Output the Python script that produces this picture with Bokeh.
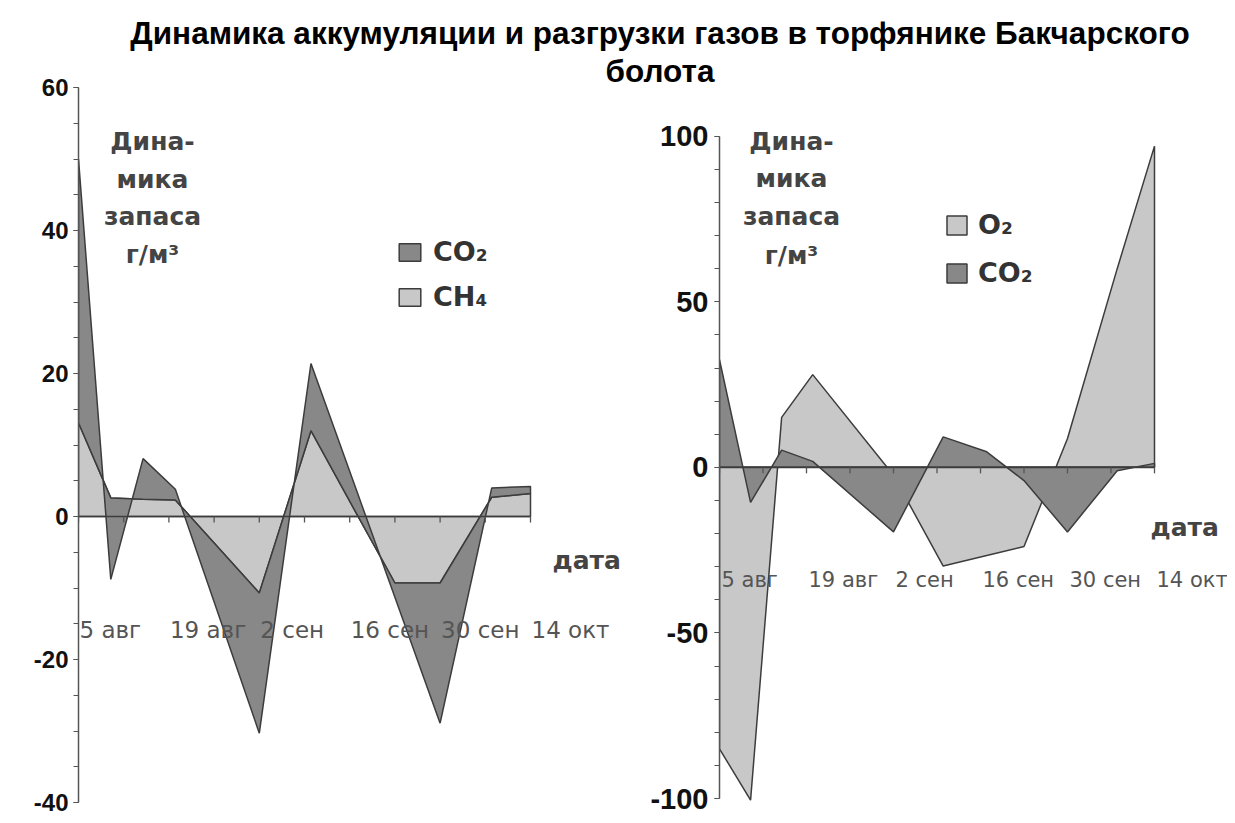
import numpy as np
from bokeh.plotting import figure
from bokeh.models import Legend, LegendItem, Div, FixedTicker
from bokeh.layouts import column, row
from bokeh.embed import file_html
from bokeh.resources import INLINE
from bokeh.core.properties import value

# ---------------- data ----------------
days = [0, 5, 10, 15, 28, 36, 43, 49, 56, 64, 70]
tick_days = [0, 14, 28, 42, 56, 70]
tick_labels = ["5 авг", "19 авг", "2 сен", "16 сен", "30 сен", "14 окт"]
minor_tick_days = [0, 7, 14, 21, 28, 35, 42, 49, 56, 63, 70]

left_ch4 = [13.1, 2.6, 2.4, 2.3, -10.7, 12.0, 0.5, -9.3, -9.3, 2.7, 3.2]
left_co2 = [36.9, -11.4, 5.7, 1.5, -19.6, 9.4, 3.3, -2.0, -19.6, 1.3, 1.0]

right_o2 = [-85.0, -100.5, 15.1, 28.0, -2.4, -29.8, -26.6, -23.9, 8.7, 60.0, 97.0]
right_co2 = [32.5, -10.6, 5.2, 1.8, -19.5, 9.2, 4.7, -4.0, -19.5, -1.0, 1.2]

left_ticks = [-40, -20, 0, 20, 40, 60]
right_ticks = [-100, -50, 0, 50, 100]
ylabel_lines = ["Дина-", "мика", "запаса", "г/м³"]
title_text = "Динамика аккумуляции и разгрузки газов в торфянике Бакчарского<br>болота"

# ---------------- styles ----------------
LIGHT = "#c8c8c8"
DARK = "#888888"
EDGE = "#3c3c3c"
AXIS = "#555555"
NUMFONT = "Liberation Sans"
TXTFONT = "DejaVu Sans"

X0, Y0 = 0, 10          # where the layout lands on the page
DIV_H = 60
FIG_H = 745
TOP_PAGE = 80           # common frame top (page px)
BOT_PAGE = 802          # common frame bottom (page px)
BT = TOP_PAGE - Y0 - DIV_H
BB = Y0 + DIV_H + FIG_H - BOT_PAGE
FH = BOT_PAGE - TOP_PAGE

# left chart mapping (-40 at frame bottom, 60 at page y 87)
W1, B1L, B1R = 630, 78, 5
f1w = W1 - B1L - B1R
f1_left_page = X0 + B1L
ppd1 = 452.0 / 70.0
x1_end = f1w / ppd1
ppu1 = (BOT_PAGE - 87) / 100.0
y1_lo = -40.0
y1_hi = y1_lo + FH / ppu1

# right chart mapping (-100 at page y 798, 100 at page y 135.7)
W2, B2L, B2R = 597, 89, 0
f2w = W2 - B2L - B2R
f2_left_page = X0 + W1 + B2L
ppd2 = 435.0 / 70.0
x2_end = f2w / ppd2
R_BOT = 798
ppu2 = (R_BOT - 135.7) / 200.0
y2_lo = -100.0 - (BOT_PAGE - R_BOT) / ppu2
y2_hi = y2_lo + FH / ppu2


def lx(px):
    return (px - f1_left_page) / ppd1


def ly(py):
    return y1_hi - (py - TOP_PAGE) / ppu1


def rx(px):
    return (px - f2_left_page) / ppd2


def ry(py):
    return y2_hi - (py - TOP_PAGE) / ppu2


def base_fig(width, bl, br, xr, yr, bounds, numsize, ticks):
    p = figure(width=width, height=FIG_H, x_range=xr, y_range=yr,
               x_axis_location=None, toolbar_location=None,
               output_backend="svg",
               min_border_left=bl, min_border_right=br,
               min_border_top=BT, min_border_bottom=BB)
    p.grid.visible = False
    p.outline_line_color = None
    p.border_fill_color = None
    p.background_fill_color = None
    ax = p.yaxis[0]
    ax.bounds = bounds
    ax.axis_line_color = AXIS
    ax.axis_line_width = 1.5
    ax.major_tick_line_color = AXIS
    ax.minor_tick_line_color = AXIS
    ax.major_tick_in = 0
    ax.minor_tick_in = 0
    ax.major_tick_out = 5
    ax.minor_tick_out = 5
    ax.major_label_text_font = NUMFONT
    ax.major_label_text_font_style = "bold"
    ax.major_label_text_font_size = numsize
    ax.major_label_text_color = "#111111"
    ax.major_label_overrides = {t: str(t) for t in ticks}
    return p


def date_axis(p, ppu, fsize, xoff, tick_len_px=6):
    x = np.asarray(days, dtype=float)
    p.segment(x0=[x[0]], y0=[0], x1=[x[-1]], y1=[0], line_color=EDGE, line_width=1.6)
    mt = np.asarray(minor_tick_days, dtype=float)
    p.segment(x0=mt, y0=np.zeros_like(mt), x1=mt, y1=np.full_like(mt, -tick_len_px / ppu),
              line_color=AXIS, line_width=1.3)
    p.text(x=tick_days, y=[0] * len(tick_days), text=tick_labels,
           x_offset=xoff, y_offset=113, text_align="left", text_baseline="middle",
           text_font=value(TXTFONT), text_font_size=fsize, text_color="#555555")


d = np.asarray(days, dtype=float)

# ---------------- left chart ----------------
p1 = base_fig(W1, B1L, B1R, (0, x1_end), (y1_lo, y1_hi), (-40, 60), "24px", left_ticks)
p1.yaxis[0].ticker = FixedTicker(ticks=left_ticks, minor_ticks=list(range(-40, 61, 5)))
p1.yaxis[0].major_label_standoff = 5

ch4 = np.asarray(left_ch4)
tot = ch4 + np.asarray(left_co2)
light1 = p1.patch(np.concatenate([d, d[::-1]]), np.concatenate([ch4, np.zeros_like(ch4)]),
                  fill_color=LIGHT, line_color=EDGE, line_width=1.5)
dark1 = p1.patch(np.concatenate([d, d[::-1]]), np.concatenate([tot, ch4[::-1]]),
                 fill_color=DARK, line_color=EDGE, line_width=1.5)
date_axis(p1, ppu1, "23px", 1)

p1.text(x=[lx(152)] * 4, y=[ly(141), ly(179), ly(216), ly(254)], text=ylabel_lines,
        text_align="center", text_baseline="middle", text_font=value(TXTFONT),
        text_font_style="bold", text_font_size="25px", text_color="#444444")
p1.text(x=[lx(552)], y=[ly(560)], text=["дата"], text_align="left", text_baseline="middle",
        text_font=value(TXTFONT), text_font_style="bold", text_font_size="25px",
        text_color="#444444")

leg1 = Legend(items=[LegendItem(label="CO₂", renderers=[dark1]),
                     LegendItem(label="CH₄", renderers=[light1])],
              location=(318, BOT_PAGE - 312),
              glyph_width=27, glyph_height=22, label_standoff=10, spacing=14,
              padding=0, margin=0, border_line_color=None, background_fill_alpha=0,
              label_text_font=TXTFONT, label_text_font_style="bold",
              label_text_font_size="27px", label_text_color="#333333")
p1.add_layout(leg1)

# ---------------- right chart ----------------
p2 = base_fig(W2, B2L, B2R, (0, x2_end), (y2_lo, y2_hi), (-100, 100), "29px", right_ticks)
p2.yaxis[0].ticker = FixedTicker(ticks=right_ticks, minor_ticks=list(range(-100, 101, 10)))
p2.yaxis[0].major_label_standoff = 6

o2 = np.asarray(right_o2)
co2 = np.asarray(right_co2)
zeros = np.zeros_like(o2)
light2 = p2.patch(np.concatenate([d, d[::-1]]), np.concatenate([o2, zeros]),
                  fill_color=LIGHT, line_color=EDGE, line_width=1.5)
dark2 = p2.patch(np.concatenate([d, d[::-1]]), np.concatenate([co2, zeros]),
                 fill_color=DARK, line_color=EDGE, line_width=1.5)
date_axis(p2, ppu2, "21px", 2)

p2.text(x=[rx(791)] * 4, y=[ry(141), ry(178), ry(216), ry(255)], text=ylabel_lines,
        text_align="center", text_baseline="middle", text_font=value(TXTFONT),
        text_font_style="bold", text_font_size="25px", text_color="#444444")
p2.text(x=[rx(1150)], y=[ry(527)], text=["дата"], text_align="left", text_baseline="middle",
        text_font=value(TXTFONT), text_font_style="bold", text_font_size="25px",
        text_color="#444444")

leg2 = Legend(items=[LegendItem(label="O₂", renderers=[light2]),
                     LegendItem(label="CO₂", renderers=[dark2])],
              location=(225, BOT_PAGE - 288),
              glyph_width=25, glyph_height=24, label_standoff=9, spacing=17,
              padding=0, margin=0, border_line_color=None, background_fill_alpha=0,
              label_text_font=TXTFONT, label_text_font_style="bold",
              label_text_font_size="27px", label_text_color="#333333")
p2.add_layout(leg2)

# ---------------- title ----------------
title = Div(text=('<div style="font-family:\'Liberation Sans\',Arial,sans-serif;'
                  'font-weight:bold;font-size:31.5px;line-height:38px;text-align:center;'
                  'color:#000;width:1100px;margin-left:105px;padding-top:9px;'
                  'white-space:nowrap;">' + title_text + '</div>'),
            width=W1 + W2, height=DIV_H, styles={"overflow": "visible"})

layout = column(title, row(p1, p2))
open("out.html", "w").write(file_html(layout, INLINE))
